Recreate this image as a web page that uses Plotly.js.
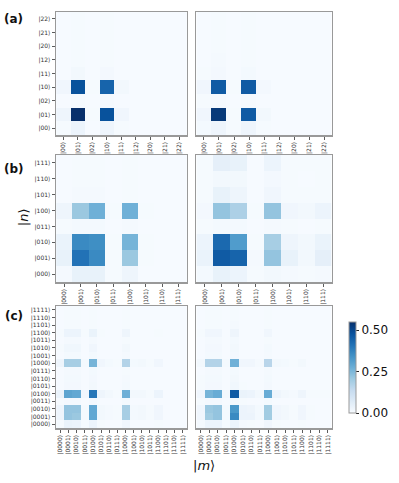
<!DOCTYPE html>
<html>
<head>
<meta charset="utf-8">
<script src="https://cdn.plot.ly/plotly-3.0.1.min.js"></script>
<style>
  html, body { margin: 0; padding: 0; background: #fff; }
  #chart { width: 399px; height: 483px; }
</style>
</head>
<body>
<div id="chart"></div>
<script>
// basis labels for each row of panels
const basisA = ['|00⟩', '|01⟩', '|02⟩', '|10⟩', '|11⟩', '|12⟩', '|20⟩', '|21⟩', '|22⟩'];
const basisB = ['|000⟩', '|001⟩', '|010⟩', '|011⟩', '|100⟩', '|101⟩', '|110⟩', '|111⟩'];
const basisC = ['|0000⟩', '|0001⟩', '|0010⟩', '|0011⟩', '|0100⟩', '|0101⟩', '|0110⟩', '|0111⟩',
                '|1000⟩', '|1001⟩', '|1010⟩', '|1011⟩', '|1100⟩', '|1101⟩', '|1110⟩', '|1111⟩'];

// rows = |n>, columns = |m>
const zALeft = [
  [0.005, 0.030, 0.003, 0.025, 0.005, 0.003, 0.003, 0.003, 0.003],
  [0.025, 0.550, 0.005, 0.480, 0.020, 0.004, 0.003, 0.003, 0.003],
  [0.004, 0.008, 0.003, 0.008, 0.004, 0.003, 0.003, 0.003, 0.003],
  [0.020, 0.480, 0.005, 0.440, 0.015, 0.004, 0.003, 0.003, 0.003],
  [0.004, 0.015, 0.003, 0.012, 0.004, 0.003, 0.003, 0.003, 0.003],
  [0.003, 0.006, 0.003, 0.006, 0.003, 0.003, 0.003, 0.003, 0.003],
  [0.003, 0.006, 0.003, 0.006, 0.003, 0.003, 0.003, 0.003, 0.003],
  [0.003, 0.006, 0.003, 0.006, 0.003, 0.003, 0.003, 0.003, 0.003],
  [0.003, 0.006, 0.003, 0.006, 0.003, 0.003, 0.003, 0.003, 0.003],
];
const zARight = [
  [0.010, 0.025, 0.006, 0.025, 0.006, 0.004, 0.003, 0.003, 0.003],
  [0.020, 0.530, 0.006, 0.460, 0.015, 0.004, 0.003, 0.003, 0.003],
  [0.005, 0.008, 0.004, 0.008, 0.004, 0.003, 0.003, 0.003, 0.003],
  [0.020, 0.460, 0.006, 0.460, 0.012, 0.004, 0.003, 0.003, 0.003],
  [0.005, 0.012, 0.004, 0.010, 0.004, 0.003, 0.003, 0.003, 0.003],
  [0.004, 0.008, 0.004, 0.006, 0.003, 0.003, 0.003, 0.003, 0.003],
  [0.004, 0.006, 0.003, 0.006, 0.003, 0.003, 0.003, 0.003, 0.003],
  [0.003, 0.005, 0.003, 0.005, 0.003, 0.003, 0.003, 0.003, 0.003],
  [0.003, 0.005, 0.003, 0.005, 0.003, 0.003, 0.003, 0.003, 0.003],
];
const zBLeft = [
  [0.008, 0.040, 0.040, 0.005, 0.025, 0.004, 0.004, 0.004],
  [0.040, 0.410, 0.360, 0.005, 0.210, 0.005, 0.004, 0.004],
  [0.035, 0.360, 0.350, 0.005, 0.260, 0.005, 0.004, 0.004],
  [0.006, 0.010, 0.010, 0.004, 0.008, 0.004, 0.004, 0.004],
  [0.025, 0.210, 0.270, 0.005, 0.270, 0.005, 0.004, 0.004],
  [0.004, 0.008, 0.008, 0.004, 0.006, 0.004, 0.004, 0.004],
  [0.004, 0.006, 0.006, 0.004, 0.005, 0.004, 0.004, 0.004],
  [0.004, 0.006, 0.006, 0.004, 0.005, 0.004, 0.004, 0.004],
];
const zBRight = [
  [0.010, 0.040, 0.030, 0.006, 0.015, 0.008, 0.006, 0.008],
  [0.035, 0.460, 0.440, 0.008, 0.220, 0.040, 0.015, 0.050],
  [0.030, 0.430, 0.320, 0.006, 0.190, 0.025, 0.015, 0.035],
  [0.006, 0.010, 0.010, 0.004, 0.008, 0.005, 0.004, 0.005],
  [0.012, 0.220, 0.180, 0.005, 0.220, 0.020, 0.015, 0.030],
  [0.005, 0.040, 0.025, 0.004, 0.020, 0.006, 0.005, 0.006],
  [0.005, 0.015, 0.015, 0.004, 0.012, 0.005, 0.004, 0.005],
  [0.006, 0.050, 0.040, 0.004, 0.030, 0.006, 0.005, 0.006],
];
const zCLeft = [
  [0.006, 0.035, 0.030, 0.005, 0.030, 0.005, 0.004, 0.004, 0.020, 0.004, 0.004, 0.004, 0.006, 0.003, 0.003, 0.003],
  [0.025, 0.220, 0.210, 0.010, 0.290, 0.015, 0.008, 0.005, 0.190, 0.010, 0.015, 0.005, 0.020, 0.004, 0.003, 0.003],
  [0.025, 0.220, 0.220, 0.010, 0.290, 0.015, 0.008, 0.005, 0.190, 0.010, 0.015, 0.005, 0.020, 0.004, 0.003, 0.003],
  [0.005, 0.012, 0.012, 0.004, 0.012, 0.004, 0.004, 0.003, 0.010, 0.003, 0.003, 0.003, 0.004, 0.003, 0.003, 0.003],
  [0.035, 0.300, 0.290, 0.020, 0.400, 0.025, 0.015, 0.006, 0.270, 0.015, 0.015, 0.005, 0.030, 0.004, 0.003, 0.003],
  [0.004, 0.012, 0.012, 0.004, 0.015, 0.004, 0.004, 0.003, 0.010, 0.003, 0.003, 0.003, 0.004, 0.003, 0.003, 0.003],
  [0.004, 0.010, 0.010, 0.004, 0.012, 0.004, 0.003, 0.003, 0.008, 0.003, 0.003, 0.003, 0.004, 0.003, 0.003, 0.003],
  [0.004, 0.008, 0.008, 0.004, 0.010, 0.003, 0.003, 0.003, 0.006, 0.003, 0.003, 0.003, 0.003, 0.003, 0.003, 0.003],
  [0.025, 0.190, 0.190, 0.010, 0.260, 0.020, 0.010, 0.005, 0.170, 0.010, 0.015, 0.005, 0.020, 0.004, 0.003, 0.003],
  [0.004, 0.010, 0.010, 0.004, 0.010, 0.003, 0.003, 0.003, 0.008, 0.003, 0.003, 0.003, 0.004, 0.003, 0.003, 0.003],
  [0.005, 0.018, 0.018, 0.004, 0.020, 0.004, 0.004, 0.004, 0.015, 0.004, 0.003, 0.003, 0.004, 0.003, 0.003, 0.003],
  [0.004, 0.008, 0.008, 0.004, 0.008, 0.003, 0.003, 0.003, 0.006, 0.003, 0.003, 0.003, 0.003, 0.003, 0.003, 0.003],
  [0.006, 0.030, 0.030, 0.005, 0.035, 0.005, 0.004, 0.004, 0.025, 0.004, 0.004, 0.003, 0.005, 0.003, 0.003, 0.003],
  [0.003, 0.006, 0.006, 0.003, 0.006, 0.003, 0.003, 0.003, 0.005, 0.003, 0.003, 0.003, 0.003, 0.003, 0.003, 0.003],
  [0.003, 0.006, 0.006, 0.003, 0.006, 0.003, 0.003, 0.003, 0.005, 0.003, 0.003, 0.003, 0.003, 0.003, 0.003, 0.003],
  [0.003, 0.006, 0.006, 0.003, 0.006, 0.003, 0.003, 0.003, 0.005, 0.003, 0.003, 0.003, 0.003, 0.003, 0.003, 0.003],
];
const zCRight = [
  [0.008, 0.030, 0.030, 0.006, 0.030, 0.008, 0.006, 0.004, 0.020, 0.005, 0.004, 0.004, 0.006, 0.003, 0.003, 0.003],
  [0.020, 0.200, 0.220, 0.010, 0.360, 0.030, 0.030, 0.010, 0.200, 0.020, 0.015, 0.006, 0.020, 0.005, 0.004, 0.004],
  [0.020, 0.210, 0.220, 0.010, 0.330, 0.030, 0.025, 0.010, 0.200, 0.020, 0.015, 0.006, 0.020, 0.005, 0.004, 0.004],
  [0.005, 0.012, 0.012, 0.004, 0.015, 0.005, 0.004, 0.004, 0.010, 0.004, 0.003, 0.003, 0.004, 0.003, 0.003, 0.003],
  [0.020, 0.260, 0.280, 0.015, 0.460, 0.035, 0.030, 0.015, 0.280, 0.025, 0.015, 0.008, 0.025, 0.006, 0.005, 0.005],
  [0.005, 0.012, 0.012, 0.004, 0.018, 0.005, 0.004, 0.004, 0.012, 0.004, 0.003, 0.003, 0.004, 0.003, 0.003, 0.003],
  [0.005, 0.010, 0.010, 0.004, 0.014, 0.004, 0.004, 0.003, 0.010, 0.003, 0.003, 0.003, 0.004, 0.003, 0.003, 0.003],
  [0.004, 0.008, 0.008, 0.004, 0.010, 0.004, 0.003, 0.003, 0.008, 0.003, 0.003, 0.003, 0.003, 0.003, 0.003, 0.003],
  [0.015, 0.170, 0.170, 0.010, 0.270, 0.020, 0.020, 0.008, 0.160, 0.015, 0.010, 0.005, 0.015, 0.004, 0.004, 0.004],
  [0.004, 0.010, 0.010, 0.004, 0.012, 0.004, 0.003, 0.003, 0.008, 0.003, 0.003, 0.003, 0.004, 0.003, 0.003, 0.003],
  [0.004, 0.012, 0.012, 0.004, 0.014, 0.004, 0.003, 0.003, 0.010, 0.003, 0.003, 0.003, 0.004, 0.003, 0.003, 0.003],
  [0.004, 0.008, 0.008, 0.004, 0.010, 0.003, 0.003, 0.003, 0.006, 0.003, 0.003, 0.003, 0.003, 0.003, 0.003, 0.003],
  [0.005, 0.020, 0.020, 0.004, 0.025, 0.004, 0.004, 0.004, 0.020, 0.004, 0.003, 0.003, 0.004, 0.003, 0.003, 0.003],
  [0.003, 0.006, 0.006, 0.003, 0.008, 0.003, 0.003, 0.003, 0.006, 0.003, 0.003, 0.003, 0.003, 0.003, 0.003, 0.003],
  [0.003, 0.006, 0.006, 0.003, 0.006, 0.003, 0.003, 0.003, 0.005, 0.003, 0.003, 0.003, 0.003, 0.003, 0.003, 0.003],
  [0.003, 0.006, 0.006, 0.003, 0.006, 0.003, 0.003, 0.003, 0.005, 0.003, 0.003, 0.003, 0.003, 0.003, 0.003, 0.003],
];

// matplotlib "Blues"
const BLUES = [
  [0, '#f7fbff'], [0.125, '#deebf7'], [0.25, '#c6dbef'], [0.375, '#9ecae1'],
  [0.5, '#6baed6'], [0.625, '#4292c6'], [0.75, '#2171b5'], [0.875, '#08519c'], [1, '#08306b'],
];

const W = 399, H = 483;
const colX = [[58, 193], [203, 343]];
const rowY = [[12, 135], [155, 282], [306, 428]];
const FONT = 'DejaVu Sans, Liberation Sans, sans-serif';

const panels = [
  { z: zALeft, labels: basisA, row: 0, col: 0 },
  { z: zARight, labels: basisA, row: 0, col: 1 },
  { z: zBLeft, labels: basisB, row: 1, col: 0 },
  { z: zBRight, labels: basisB, row: 1, col: 1 },
  { z: zCLeft, labels: basisC, row: 2, col: 0 },
  { z: zCRight, labels: basisC, row: 2, col: 1 },
];

const traces = [];
const layout = {
  width: W, height: H,
  margin: { l: 0, r: 0, t: 0, b: 0 },
  paper_bgcolor: '#fff', plot_bgcolor: '#fff',
  font: { family: FONT, color: '#222' },
  showlegend: false,
  coloraxis: {
    colorscale: BLUES, cmin: 0, cmax: 0.55,
    colorbar: {
      x: 350 / W, xanchor: 'left', y: 1 - 423 / H, yanchor: 'bottom',
      len: (423 - 312) / H, lenmode: 'fraction', thickness: 7,
      outlinecolor: '#999', outlinewidth: 1,
      tickvals: [0, 0.25, 0.5], tickformat: '.2f',
      ticks: 'outside', ticklen: 3, tickcolor: '#222',
      tickfont: { size: 12, family: FONT, color: '#111' },
    },
  },
  annotations: [],
};

panels.forEach((p, i) => {
  const k = i + 1;
  const xa = k === 1 ? 'x' : 'x' + k;
  const ya = k === 1 ? 'y' : 'y' + k;
  traces.push({
    type: 'heatmap', z: p.z, x: p.labels, y: p.labels,
    coloraxis: 'coloraxis', xaxis: xa, yaxis: ya, hoverinfo: 'skip',
  });
  const [x0, x1] = colX[p.col];
  const [yt, yb] = rowY[p.row];
  const common = {
    type: 'category', showgrid: false, zeroline: false,
    showline: true, mirror: true, linecolor: '#999', linewidth: 1.5,
    tickfont: { size: 6, family: FONT, color: '#333' },
    ticks: 'outside', ticklen: 3, tickwidth: 0.8, tickcolor: '#333',
  };
  layout['xaxis' + (k === 1 ? '' : k)] = {
    ...common, domain: [x0 / W, x1 / W], anchor: ya, tickangle: -90,
  };
  layout['yaxis' + (k === 1 ? '' : k)] = {
    ...common, domain: [1 - yb / H, 1 - yt / H], anchor: xa,
    showticklabels: p.col === 0, ticks: p.col === 0 ? 'outside' : '',
  };
});

const note = (text, x, y, size, extra) => ({
  text, x: x / W, y: 1 - y / H, xref: 'paper', yref: 'paper',
  showarrow: false, xanchor: 'center', yanchor: 'middle',
  font: { size, family: FONT, color: '#111' }, ...extra,
});
layout.annotations.push(
  note('<b>(a)</b>', 14, 19, 12),
  note('<b>(b)</b>', 14, 169, 12),
  note('<b>(c)</b>', 14, 316, 12),
  note('|<i>n</i>⟩', 24, 217, 13, { textangle: -90 }),
  note('|<i>m</i>⟩', 211, 465, 13),
);

Plotly.newPlot('chart', traces, layout, { displayModeBar: false, staticPlot: true });
</script>
</body>
</html>
